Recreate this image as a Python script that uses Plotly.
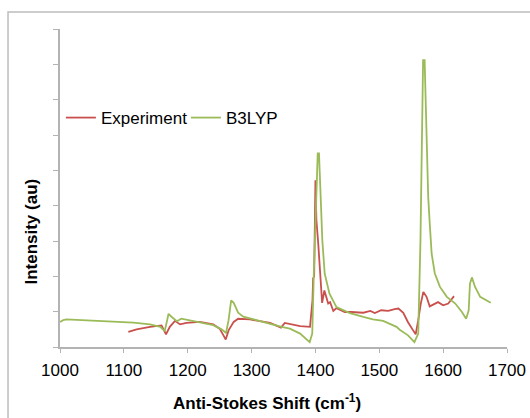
import plotly.graph_objects as go

# B3LYP (calculated) spectrum
b3lyp_x = [1000, 1005, 1010, 1030, 1063, 1090, 1115, 1141, 1157, 1164, 1167, 1170, 1175, 1183,
           1190, 1198, 1219, 1240, 1253, 1260, 1264, 1268, 1272, 1279, 1287, 1303, 1321, 1334,
           1347, 1360, 1376, 1391, 1395, 1397.5, 1401.6, 1403.6, 1405.6, 1407.7, 1410.8, 1414.5,
           1422, 1433, 1449, 1454, 1475, 1490, 1506, 1527, 1532, 1545, 1555, 1561, 1564.5,
           1566.6, 1568.6, 1571, 1572.8, 1574.9, 1576.6, 1579, 1582, 1587, 1595, 1605.8, 1619,
           1629.4, 1636, 1640, 1642, 1645, 1650, 1658, 1666, 1674.5]
b3lyp_y = [0.71, 0.76, 0.78, 0.76, 0.74, 0.72, 0.69, 0.64, 0.57, 0.45, 0.70, 0.94, 0.85, 0.73,
           0.80, 0.77, 0.70, 0.62, 0.50, 0.40, 0.76, 1.32, 1.25, 0.97, 0.86, 0.78, 0.69, 0.64,
           0.57, 0.52, 0.38, 0.14, 0.38, 2.08, 4.44, 5.48, 5.48, 4.44, 3.02, 2.08,
           1.51, 1.13, 0.99, 0.96, 0.85, 0.78, 0.74, 0.57, 0.49, 0.33, 0.14, 0.38, 3.02,
           5.38, 8.12, 8.12, 6.80, 5.67, 4.25, 3.50, 2.64, 2.08, 1.70, 1.42, 1.23,
           0.99, 0.80, 1.04, 1.79, 1.97, 1.70, 1.42, 1.34, 1.25]

# measured spectrum
exp_x = [1107, 1120, 1141, 1159, 1166, 1172, 1180, 1188, 1198, 1219, 1240, 1250, 1256, 1259.5,
         1264, 1272, 1279, 1297.5, 1329, 1346, 1352, 1376, 1391.5, 1395.4, 1396.4, 1398, 1400,
         1401.5, 1404.5, 1407.5, 1410.5, 1414, 1420, 1423, 1428, 1433, 1446, 1456, 1475, 1486,
         1493, 1503, 1514, 1524, 1530, 1537.6, 1545, 1553, 1557, 1561, 1565, 1569, 1574, 1579,
         1587, 1592, 1600, 1608, 1617]
exp_y = [0.43, 0.50, 0.57, 0.61, 0.36, 0.57, 0.74, 0.64, 0.68, 0.71, 0.64, 0.52, 0.33, 0.21,
         0.47, 0.71, 0.80, 0.78, 0.68, 0.55, 0.68, 0.59, 0.57, 1.32, 1.94, 2.00, 4.72,
         3.60, 2.90, 2.08, 1.25, 1.60, 1.23, 1.27, 1.02, 1.10, 0.99, 0.99, 0.97, 1.02,
         0.96, 1.04, 1.02, 1.07, 1.09, 0.97, 0.70, 0.47, 0.36, 0.76, 1.23, 1.56, 1.42, 1.15,
         1.21, 1.27, 1.18, 1.23, 1.44]

font = "Arial, Liberation Sans, sans-serif"

fig = go.Figure()
fig.add_trace(go.Scatter(x=exp_x, y=exp_y, mode='lines', name='Experiment',
                         line=dict(color='#C9504D', width=1.8)))
fig.add_trace(go.Scatter(x=b3lyp_x, y=b3lyp_y, mode='lines', name='B3LYP',
                         line=dict(color='#9BBB59', width=1.8)))

fig.update_layout(
    width=530, height=418,
    margin=dict(l=60, r=23, t=29, b=71),
    paper_bgcolor='white', plot_bgcolor='white',
    font=dict(family=font, size=17, color='black'),
    legend=dict(orientation='h', x=0.002, xanchor='left', y=0.72, yanchor='middle',
                font=dict(size=17), bgcolor='rgba(0,0,0,0)',
                entrywidth=80, entrywidthmode='pixels'),
    xaxis=dict(range=[1000, 1700], dtick=100, tick0=1000, showgrid=False, zeroline=False,
               showline=True, linecolor='#B3B3B3', linewidth=1.5, automargin=False,
               ticks='outside', ticklen=4, tickcolor='#B3B3B3', ticklabelstandoff=3),
    yaxis=dict(range=[0, 9], dtick=1, showgrid=False, zeroline=False, showticklabels=False,
               showline=True, linecolor='#B3B3B3', linewidth=1.5, automargin=False,
               ticks='outside', ticklen=5, tickcolor='#B3B3B3'),
    shapes=[dict(type='rect', xref='paper', yref='paper', x0=-0.1163, x1=1.08, y0=-0.3, y1=1.0535,
                 line=dict(color='#BDBDBD', width=1.5), fillcolor='rgba(0,0,0,0)', layer='below')],
    annotations=[
        dict(text='<b>Intensity (au)</b>', xref='paper', yref='paper', x=-0.0626, y=0.363,
             xanchor='center', yanchor='middle', textangle=-90, showarrow=False,
             font=dict(size=17)),
        dict(text='<b>Anti-Stokes Shift (cm<sup>-1</sup>)</b>', xref='paper', yref='paper',
             x=0.462, y=-0.174, xanchor='center', yanchor='middle', showarrow=False,
             font=dict(size=17)),
    ],
)

# drop the default 8px body margin so the 530x418 figure fills the window exactly
fig.write_html("out.html", config={'displayModeBar': False},
               post_script="document.body.style.margin='0';document.body.style.overflow='hidden';")
